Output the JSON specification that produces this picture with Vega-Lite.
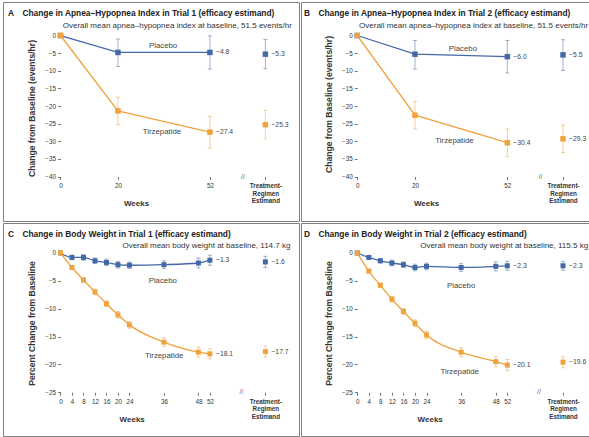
{
  "$schema": "https://vega.github.io/schema/vega-lite/v6.json",
  "padding": {"left": 2, "top": 1, "right": 0, "bottom": 0},
  "spacing": 0,
  "datasets": {
    "ahi1": [
      {"group": "Placebo", "week": 0, "est": 0, "lo": 0, "hi": 0},
      {"group": "Placebo", "week": 20, "est": -4.8, "lo": -8.8, "hi": -1.0},
      {"group": "Placebo", "week": 52, "est": -4.8, "lo": -9.5, "hi": -0.1},
      {"group": "Placebo", "week": 71.3, "est": -5.3, "lo": -9.4, "hi": -1.1},
      {"group": "Tirzepatide", "week": 0, "est": 0, "lo": 0, "hi": 0},
      {"group": "Tirzepatide", "week": 20, "est": -21.4, "lo": -25.3, "hi": -17.5},
      {"group": "Tirzepatide", "week": 52, "est": -27.4, "lo": -31.9, "hi": -22.9},
      {"group": "Tirzepatide", "week": 71.3, "est": -25.3, "lo": -29.3, "hi": -21.2}
    ],
    "ahi2": [
      {"group": "Placebo", "week": 0, "est": 0, "lo": 0, "hi": 0},
      {"group": "Placebo", "week": 20, "est": -5.3, "lo": -9.5, "hi": -1.4},
      {"group": "Placebo", "week": 52, "est": -6.0, "lo": -10.6, "hi": -1.4},
      {"group": "Placebo", "week": 71.3, "est": -5.5, "lo": -9.9, "hi": -1.2},
      {"group": "Tirzepatide", "week": 0, "est": 0, "lo": 0, "hi": 0},
      {"group": "Tirzepatide", "week": 20, "est": -22.6, "lo": -26.5, "hi": -18.7},
      {"group": "Tirzepatide", "week": 52, "est": -30.4, "lo": -34.3, "hi": -26.5},
      {"group": "Tirzepatide", "week": 71.3, "est": -29.3, "lo": -33.2, "hi": -25.4}
    ],
    "wt1": [
      {"group": "Placebo", "week": 0, "est": 0, "lo": 0, "hi": 0},
      {"group": "Placebo", "week": 4, "est": -0.8, "lo": -1.2, "hi": -0.4},
      {"group": "Placebo", "week": 8, "est": -0.8, "lo": -1.3, "hi": -0.3},
      {"group": "Placebo", "week": 12, "est": -1.4, "lo": -1.9, "hi": -0.9},
      {"group": "Placebo", "week": 16, "est": -1.7, "lo": -2.3, "hi": -1.1},
      {"group": "Placebo", "week": 20, "est": -2.1, "lo": -2.7, "hi": -1.5},
      {"group": "Placebo", "week": 24, "est": -2.2, "lo": -2.8, "hi": -1.6},
      {"group": "Placebo", "week": 36, "est": -2.1, "lo": -2.8, "hi": -1.4},
      {"group": "Placebo", "week": 48, "est": -1.8, "lo": -2.7, "hi": -0.9},
      {"group": "Placebo", "week": 52, "est": -1.3, "lo": -2.2, "hi": -0.4},
      {"group": "Placebo", "week": 71.3, "est": -1.6, "lo": -2.6, "hi": -0.6},
      {"group": "Tirzepatide", "week": 0, "est": 0, "lo": 0, "hi": 0},
      {"group": "Tirzepatide", "week": 4, "est": -2.6, "lo": -2.9, "hi": -2.3},
      {"group": "Tirzepatide", "week": 8, "est": -4.85, "lo": -5.25, "hi": -4.45},
      {"group": "Tirzepatide", "week": 12, "est": -7.0, "lo": -7.5, "hi": -6.5},
      {"group": "Tirzepatide", "week": 16, "est": -9.1, "lo": -9.6, "hi": -8.6},
      {"group": "Tirzepatide", "week": 20, "est": -11.1, "lo": -11.7, "hi": -10.5},
      {"group": "Tirzepatide", "week": 24, "est": -12.9, "lo": -13.5, "hi": -12.3},
      {"group": "Tirzepatide", "week": 36, "est": -16.0, "lo": -16.8, "hi": -15.2},
      {"group": "Tirzepatide", "week": 48, "est": -17.8, "lo": -18.7, "hi": -16.9},
      {"group": "Tirzepatide", "week": 52, "est": -18.1, "lo": -19.0, "hi": -17.2},
      {"group": "Tirzepatide", "week": 71.3, "est": -17.7, "lo": -18.7, "hi": -16.7}
    ],
    "wt2": [
      {"group": "Placebo", "week": 0, "est": 0, "lo": 0, "hi": 0},
      {"group": "Placebo", "week": 4, "est": -0.8, "lo": -1.1, "hi": -0.5},
      {"group": "Placebo", "week": 8, "est": -1.4, "lo": -1.8, "hi": -1.0},
      {"group": "Placebo", "week": 12, "est": -1.8, "lo": -2.3, "hi": -1.3},
      {"group": "Placebo", "week": 16, "est": -2.1, "lo": -2.6, "hi": -1.6},
      {"group": "Placebo", "week": 20, "est": -2.6, "lo": -3.2, "hi": -2.0},
      {"group": "Placebo", "week": 24, "est": -2.4, "lo": -3.0, "hi": -1.8},
      {"group": "Placebo", "week": 36, "est": -2.6, "lo": -3.3, "hi": -1.9},
      {"group": "Placebo", "week": 48, "est": -2.4, "lo": -3.2, "hi": -1.6},
      {"group": "Placebo", "week": 52, "est": -2.3, "lo": -3.1, "hi": -1.5},
      {"group": "Placebo", "week": 71.3, "est": -2.3, "lo": -3.1, "hi": -1.5},
      {"group": "Tirzepatide", "week": 0, "est": 0, "lo": 0, "hi": 0},
      {"group": "Tirzepatide", "week": 4, "est": -3.25, "lo": -3.55, "hi": -2.95},
      {"group": "Tirzepatide", "week": 8, "est": -5.8, "lo": -6.2, "hi": -5.4},
      {"group": "Tirzepatide", "week": 12, "est": -8.3, "lo": -8.8, "hi": -7.8},
      {"group": "Tirzepatide", "week": 16, "est": -10.5, "lo": -11.0, "hi": -10.0},
      {"group": "Tirzepatide", "week": 20, "est": -12.6, "lo": -13.2, "hi": -12.0},
      {"group": "Tirzepatide", "week": 24, "est": -14.7, "lo": -15.4, "hi": -14.0},
      {"group": "Tirzepatide", "week": 36, "est": -17.8, "lo": -18.6, "hi": -17.0},
      {"group": "Tirzepatide", "week": 48, "est": -19.5, "lo": -20.4, "hi": -18.6},
      {"group": "Tirzepatide", "week": 52, "est": -20.1, "lo": -21.1, "hi": -19.1},
      {"group": "Tirzepatide", "week": 71.3, "est": -19.6, "lo": -20.6, "hi": -18.6}
    ]
  },
  "vconcat": [
    {
      "hconcat": [
        {
          "width": 296, "height": 219,
          "title": {"text": "A\u2003Change in Apnea\u2013Hypopnea Index in Trial 1 (efficacy estimand)", "dx": 5},
          "data": {"name": "ahi1"},
          "encoding": {
            "x": {"field": "week", "type": "quantitative", "scale": {"domain": [-20, 83], "nice": false, "zero": false},
              "axis": {"values": [0, 20, 52, 71.3], "orient": "bottom", "offset": -44.5, "title": "Weeks", "titleX": 133, "titleY": 26.5, "titleBaseline": "middle",
                "labelExpr": "datum.value > 60 ? ['Treatment-', 'Regimen', 'Estimand'] : datum.label",
                "labelFontWeight": {"condition": {"test": "datum.value > 60", "value": "bold"}, "value": "normal"}}},
            "y": {"field": "est", "type": "quantitative", "scale": {"domain": [-52.6, 9.5], "nice": false, "zero": false},
              "axis": {"values": [0, -5, -10, -15, -20, -25, -30, -35, -40], "orient": "left", "offset": -57.5, "title": "Change from Baseline (events/hr)", "titleX": -29, "titleY": 106, "titleBaseline": "middle", "titleAlign": "center"}}
          },
          "layer": [
            {"data": {"values": [{}]}, "mark": {"type": "rule", "strokeDash": [1.5, 1.5], "color": "#8896b3", "strokeWidth": 1}, "encoding": {"x": {"datum": 0}, "x2": {"datum": 80.5}, "y": {"datum": 0}}},
            {"data": {"values": [{}]}, "mark": {"type": "rule", "color": "#555", "strokeWidth": 0.8}, "encoding": {"x": {"datum": 0}, "y": {"datum": -40}, "y2": {"datum": 0.5}}},
            {"data": {"values": [{}]}, "mark": {"type": "rule", "color": "#555", "strokeWidth": 0.8}, "encoding": {"x": {"datum": 0}, "x2": {"datum": 79.5}, "y": {"datum": -40}}},
            {"transform": [{"filter": "datum.week == 0 && datum.group == 'Placebo'"}], "mark": {"type": "text", "fontSize": 7, "color": "#666"}, "encoding": {"x": {"datum": 63.5}, "y": {"datum": -40}, "text": {"value": "//"}}},
            {"transform": [{"filter": "datum.week > 0"}], "mark": {"type": "rule", "strokeWidth": 1, "opacity": 0.5}, "encoding": {"y": {"field": "lo", "type": "quantitative"}, "y2": {"field": "hi"}, "color": {"field": "group", "type": "nominal", "scale": {"domain": ["Placebo", "Tirzepatide"], "range": ["#4468a8", "#f0a23c"]}, "legend": null}}},
            {"transform": [{"filter": "datum.week > 0"}, {"fold": ["lo", "hi"], "as": ["bound", "v"]}], "mark": {"type": "tick", "orient": "horizontal", "size": 4, "thickness": 1, "opacity": 0.5}, "encoding": {"y": {"field": "v", "type": "quantitative"}, "color": {"field": "group", "type": "nominal", "legend": null}}},
            {"transform": [{"filter": "datum.week <= 52"}], "mark": {"type": "line", "strokeWidth": 1.3}, "encoding": {"color": {"field": "group", "type": "nominal", "legend": null}}},
            {"mark": {"type": "point", "shape": "square", "filled": true, "size": 30, "opacity": 1}, "encoding": {"color": {"field": "group", "type": "nominal", "legend": null}}},
            {"transform": [{"filter": "datum.week >= 52"}], "mark": {"type": "text", "align": "left", "dx": 6, "fontSize": 6.8, "color": "#444"}, "encoding": {"text": {"field": "est", "type": "quantitative", "format": ".1f"}}},
            {"transform": [{"filter": "datum.week == 0 && datum.group == 'Placebo'"}], "mark": {"type": "text", "fontSize": 7.8, "color": "#444"}, "encoding": {"x": {"datum": 35.7}, "y": {"datum": -3.0}, "text": {"value": "Placebo"}}},
            {"transform": [{"filter": "datum.week == 0 && datum.group == 'Placebo'"}], "mark": {"type": "text", "fontSize": 7.8, "color": "#444"}, "encoding": {"x": {"datum": 35.3}, "y": {"datum": -27.4}, "text": {"value": "Tirzepatide"}}},
            {"transform": [{"filter": "datum.week == 0 && datum.group == 'Placebo'"}], "mark": {"type": "text", "align": "right", "fontSize": 8, "color": "#333"}, "encoding": {"x": {"datum": 80.5}, "y": {"datum": 2.7}, "text": {"value": "Overall mean apnea\u2013hypopnea index at baseline, 51.5 events/hr"}}}
          ]
        },
        {
          "width": 290, "height": 219,
          "title": {"text": "B\u2003Change in Apnea\u2013Hypopnea Index in Trial 2 (efficacy estimand)", "dx": 3},
          "data": {"name": "ahi2"},
          "encoding": {
            "x": {"field": "week", "type": "quantitative", "scale": {"domain": [-19.5, 81], "nice": false, "zero": false},
              "axis": {"values": [0, 20, 52, 71.3], "orient": "bottom", "offset": -44.5, "title": "Weeks", "titleX": 125, "titleY": 26.5, "titleBaseline": "middle",
                "labelExpr": "datum.value > 60 ? ['Treatment-', 'Regimen', 'Estimand'] : datum.label",
                "labelFontWeight": {"condition": {"test": "datum.value > 60", "value": "bold"}, "value": "normal"}}},
            "y": {"field": "est", "type": "quantitative", "scale": {"domain": [-52.6, 9.5], "nice": false, "zero": false},
              "axis": {"values": [0, -5, -10, -15, -20, -25, -30, -35, -40], "orient": "left", "offset": -56.3, "title": "Change from Baseline (events/hr)", "titleX": -29, "titleY": 102, "titleBaseline": "middle", "titleAlign": "center"}}
          },
          "layer": [
            {"data": {"values": [{}]}, "mark": {"type": "rule", "strokeDash": [1.5, 1.5], "color": "#8896b3", "strokeWidth": 1}, "encoding": {"x": {"datum": 0}, "x2": {"datum": 80}, "y": {"datum": 0}}},
            {"data": {"values": [{}]}, "mark": {"type": "rule", "color": "#555", "strokeWidth": 0.8}, "encoding": {"x": {"datum": 0}, "y": {"datum": -40}, "y2": {"datum": 0.5}}},
            {"data": {"values": [{}]}, "mark": {"type": "rule", "color": "#555", "strokeWidth": 0.8}, "encoding": {"x": {"datum": 0}, "x2": {"datum": 79.5}, "y": {"datum": -40}}},
            {"transform": [{"filter": "datum.week == 0 && datum.group == 'Placebo'"}], "mark": {"type": "text", "fontSize": 7, "color": "#666"}, "encoding": {"x": {"datum": 63.5}, "y": {"datum": -40}, "text": {"value": "//"}}},
            {"transform": [{"filter": "datum.week > 0"}], "mark": {"type": "rule", "strokeWidth": 1, "opacity": 0.5}, "encoding": {"y": {"field": "lo", "type": "quantitative"}, "y2": {"field": "hi"}, "color": {"field": "group", "type": "nominal", "scale": {"domain": ["Placebo", "Tirzepatide"], "range": ["#4468a8", "#f0a23c"]}, "legend": null}}},
            {"transform": [{"filter": "datum.week > 0"}, {"fold": ["lo", "hi"], "as": ["bound", "v"]}], "mark": {"type": "tick", "orient": "horizontal", "size": 4, "thickness": 1, "opacity": 0.5}, "encoding": {"y": {"field": "v", "type": "quantitative"}, "color": {"field": "group", "type": "nominal", "legend": null}}},
            {"transform": [{"filter": "datum.week <= 52"}], "mark": {"type": "line", "strokeWidth": 1.3}, "encoding": {"color": {"field": "group", "type": "nominal", "legend": null}}},
            {"mark": {"type": "point", "shape": "square", "filled": true, "size": 30, "opacity": 1}, "encoding": {"color": {"field": "group", "type": "nominal", "legend": null}}},
            {"transform": [{"filter": "datum.week >= 52"}], "mark": {"type": "text", "align": "left", "dx": 6, "fontSize": 6.8, "color": "#444"}, "encoding": {"text": {"field": "est", "type": "quantitative", "format": ".1f"}}},
            {"transform": [{"filter": "datum.week == 0 && datum.group == 'Placebo'"}], "mark": {"type": "text", "fontSize": 7.8, "color": "#444"}, "encoding": {"x": {"datum": 36.6}, "y": {"datum": -3.9}, "text": {"value": "Placebo"}}},
            {"transform": [{"filter": "datum.week == 0 && datum.group == 'Placebo'"}], "mark": {"type": "text", "fontSize": 7.8, "color": "#444"}, "encoding": {"x": {"datum": 33.7}, "y": {"datum": -29.9}, "text": {"value": "Tirzepatide"}}},
            {"transform": [{"filter": "datum.week == 0 && datum.group == 'Placebo'"}], "mark": {"type": "text", "align": "right", "fontSize": 8, "color": "#333"}, "encoding": {"x": {"datum": 80}, "y": {"datum": 2.7}, "text": {"value": "Overall mean apnea\u2013hypopnea index at baseline, 51.5 events/hr"}}}
          ]
        }
      ]
    },
    {
      "hconcat": [
        {
          "width": 296, "height": 213,
          "title": {"text": "C\u2003Change in Body Weight in Trial 1 (efficacy estimand)", "dx": 5},
          "data": {"name": "wt1"},
          "encoding": {
            "x": {"field": "week", "type": "quantitative", "scale": {"domain": [-20, 83], "nice": false, "zero": false},
              "axis": {"values": [0, 4, 8, 12, 16, 20, 24, 36, 48, 52, 71.3], "orient": "bottom", "offset": -43.7, "title": "Weeks", "titleX": 128.7, "titleY": 27.4, "titleBaseline": "middle",
                "labelExpr": "datum.value > 60 ? ['Treatment-', 'Regimen', 'Estimand'] : datum.label",
                "labelFontWeight": {"condition": {"test": "datum.value > 60", "value": "bold"}, "value": "normal"}}},
            "y": {"field": "est", "type": "quantitative", "scale": {"domain": [-32.84, 5.38], "nice": false, "zero": false},
              "axis": {"values": [0, -5, -10, -15, -20, -25], "orient": "left", "offset": -57.5, "title": "Percent Change from Baseline", "titleX": -29, "titleY": 100, "titleBaseline": "middle", "titleAlign": "center"}}
          },
          "layer": [
            {"data": {"values": [{}]}, "mark": {"type": "rule", "strokeDash": [1.5, 1.5], "color": "#8896b3", "strokeWidth": 1}, "encoding": {"x": {"datum": 0}, "x2": {"datum": 80}, "y": {"datum": 0}}},
            {"data": {"values": [{}]}, "mark": {"type": "rule", "color": "#555", "strokeWidth": 0.8}, "encoding": {"x": {"datum": 0}, "y": {"datum": -25}, "y2": {"datum": 0.3}}},
            {"data": {"values": [{}]}, "mark": {"type": "rule", "color": "#555", "strokeWidth": 0.8}, "encoding": {"x": {"datum": 0}, "x2": {"datum": 79.5}, "y": {"datum": -25}}},
            {"transform": [{"filter": "datum.week == 0 && datum.group == 'Placebo'"}], "mark": {"type": "text", "fontSize": 7, "color": "#666"}, "encoding": {"x": {"datum": 63}, "y": {"datum": -25}, "text": {"value": "//"}}},
            {"transform": [{"filter": "datum.week > 0"}], "mark": {"type": "rule", "strokeWidth": 1, "opacity": 0.5}, "encoding": {"y": {"field": "lo", "type": "quantitative"}, "y2": {"field": "hi"}, "color": {"field": "group", "type": "nominal", "scale": {"domain": ["Placebo", "Tirzepatide"], "range": ["#4468a8", "#f0a23c"]}, "legend": null}}},
            {"transform": [{"filter": "datum.week > 0"}, {"fold": ["lo", "hi"], "as": ["bound", "v"]}], "mark": {"type": "tick", "orient": "horizontal", "size": 4, "thickness": 1, "opacity": 0.5}, "encoding": {"y": {"field": "v", "type": "quantitative"}, "color": {"field": "group", "type": "nominal", "legend": null}}},
            {"transform": [{"filter": "datum.week <= 52"}], "mark": {"type": "line", "strokeWidth": 1.3, "interpolate": "monotone"}, "encoding": {"color": {"field": "group", "type": "nominal", "legend": null}}},
            {"mark": {"type": "point", "shape": "square", "filled": true, "size": 25, "opacity": 1}, "encoding": {"color": {"field": "group", "type": "nominal", "legend": null}}},
            {"transform": [{"filter": "datum.week >= 52"}], "mark": {"type": "text", "align": "left", "dx": 6, "fontSize": 6.8, "color": "#444"}, "encoding": {"text": {"field": "est", "type": "quantitative", "format": ".1f"}}},
            {"transform": [{"filter": "datum.week == 0 && datum.group == 'Placebo'"}], "mark": {"type": "text", "fontSize": 7.8, "color": "#444"}, "encoding": {"x": {"datum": 35.6}, "y": {"datum": -5.1}, "text": {"value": "Placebo"}}},
            {"transform": [{"filter": "datum.week == 0 && datum.group == 'Placebo'"}], "mark": {"type": "text", "fontSize": 7.8, "color": "#444"}, "encoding": {"x": {"datum": 36.1}, "y": {"datum": -18.4}, "text": {"value": "Tirzepatide"}}},
            {"transform": [{"filter": "datum.week == 0 && datum.group == 'Placebo'"}], "mark": {"type": "text", "align": "right", "fontSize": 8, "color": "#333"}, "encoding": {"x": {"datum": 80}, "y": {"datum": 1.2}, "text": {"value": "Overall mean body weight at baseline, 114.7 kg"}}}
          ]
        },
        {
          "width": 290, "height": 213,
          "title": {"text": "D\u2003Change in Body Weight in Trial 2 (efficacy estimand)", "dx": 3},
          "data": {"name": "wt2"},
          "encoding": {
            "x": {"field": "week", "type": "quantitative", "scale": {"domain": [-19.5, 81], "nice": false, "zero": false},
              "axis": {"values": [0, 4, 8, 12, 16, 20, 24, 36, 48, 52, 71.3], "orient": "bottom", "offset": -43.7, "title": "Weeks", "titleX": 128.7, "titleY": 27.4, "titleBaseline": "middle",
                "labelExpr": "datum.value > 60 ? ['Treatment-', 'Regimen', 'Estimand'] : datum.label",
                "labelFontWeight": {"condition": {"test": "datum.value > 60", "value": "bold"}, "value": "normal"}}},
            "y": {"field": "est", "type": "quantitative", "scale": {"domain": [-32.84, 5.38], "nice": false, "zero": false},
              "axis": {"values": [0, -5, -10, -15, -20, -25], "orient": "left", "offset": -56.3, "title": "Percent Change from Baseline", "titleX": -29, "titleY": 100, "titleBaseline": "middle", "titleAlign": "center"}}
          },
          "layer": [
            {"data": {"values": [{}]}, "mark": {"type": "rule", "strokeDash": [1.5, 1.5], "color": "#8896b3", "strokeWidth": 1}, "encoding": {"x": {"datum": 0}, "x2": {"datum": 80}, "y": {"datum": 0}}},
            {"data": {"values": [{}]}, "mark": {"type": "rule", "color": "#555", "strokeWidth": 0.8}, "encoding": {"x": {"datum": 0}, "y": {"datum": -25}, "y2": {"datum": 0.3}}},
            {"data": {"values": [{}]}, "mark": {"type": "rule", "color": "#555", "strokeWidth": 0.8}, "encoding": {"x": {"datum": 0}, "x2": {"datum": 79.5}, "y": {"datum": -25}}},
            {"transform": [{"filter": "datum.week == 0 && datum.group == 'Placebo'"}], "mark": {"type": "text", "fontSize": 7, "color": "#666"}, "encoding": {"x": {"datum": 63}, "y": {"datum": -25}, "text": {"value": "//"}}},
            {"transform": [{"filter": "datum.week > 0"}], "mark": {"type": "rule", "strokeWidth": 1, "opacity": 0.5}, "encoding": {"y": {"field": "lo", "type": "quantitative"}, "y2": {"field": "hi"}, "color": {"field": "group", "type": "nominal", "scale": {"domain": ["Placebo", "Tirzepatide"], "range": ["#4468a8", "#f0a23c"]}, "legend": null}}},
            {"transform": [{"filter": "datum.week > 0"}, {"fold": ["lo", "hi"], "as": ["bound", "v"]}], "mark": {"type": "tick", "orient": "horizontal", "size": 4, "thickness": 1, "opacity": 0.5}, "encoding": {"y": {"field": "v", "type": "quantitative"}, "color": {"field": "group", "type": "nominal", "legend": null}}},
            {"transform": [{"filter": "datum.week <= 52"}], "mark": {"type": "line", "strokeWidth": 1.3, "interpolate": "monotone"}, "encoding": {"color": {"field": "group", "type": "nominal", "legend": null}}},
            {"mark": {"type": "point", "shape": "square", "filled": true, "size": 25, "opacity": 1}, "encoding": {"color": {"field": "group", "type": "nominal", "legend": null}}},
            {"transform": [{"filter": "datum.week >= 52"}], "mark": {"type": "text", "align": "left", "dx": 6, "fontSize": 6.8, "color": "#444"}, "encoding": {"text": {"field": "est", "type": "quantitative", "format": ".1f"}}},
            {"transform": [{"filter": "datum.week == 0 && datum.group == 'Placebo'"}], "mark": {"type": "text", "fontSize": 7.8, "color": "#444"}, "encoding": {"x": {"datum": 36.0}, "y": {"datum": -6.0}, "text": {"value": "Placebo"}}},
            {"transform": [{"filter": "datum.week == 0 && datum.group == 'Placebo'"}], "mark": {"type": "text", "fontSize": 7.8, "color": "#444"}, "encoding": {"x": {"datum": 35.5}, "y": {"datum": -21.4}, "text": {"value": "Tirzepatide"}}},
            {"transform": [{"filter": "datum.week == 0 && datum.group == 'Placebo'"}], "mark": {"type": "text", "align": "right", "fontSize": 8, "color": "#333"}, "encoding": {"x": {"datum": 80}, "y": {"datum": 1.2}, "text": {"value": "Overall mean body weight at baseline, 115.5 kg"}}}
          ]
        }
      ]
    }
  ],
  "config": {
    "font": "Liberation Sans",
    "concat": {"spacing": 0},
    "view": {"stroke": "#7f7f7f", "strokeWidth": 1},
    "title": {"fontSize": 8.4, "fontWeight": "bold", "color": "#222", "anchor": "start", "frame": "group", "offset": -15.6, "baseline": "alphabetic"},
    "axis": {"domain": false, "grid": false, "tickColor": "#555", "tickSize": 3, "tickWidth": 0.8, "labelFontSize": 6.3, "labelColor": "#333", "labelPadding": 2, "labelLineHeight": 7.5, "titleFontSize": 8, "titleFontWeight": "bold", "titleColor": "#333", "labelOverlap": false, "labelFlush": false, "labelBound": false},
    "axisLeft": {"titleFontSize": 8.6},
    "axisBottom": {"labelPadding": 3}
  }
}
